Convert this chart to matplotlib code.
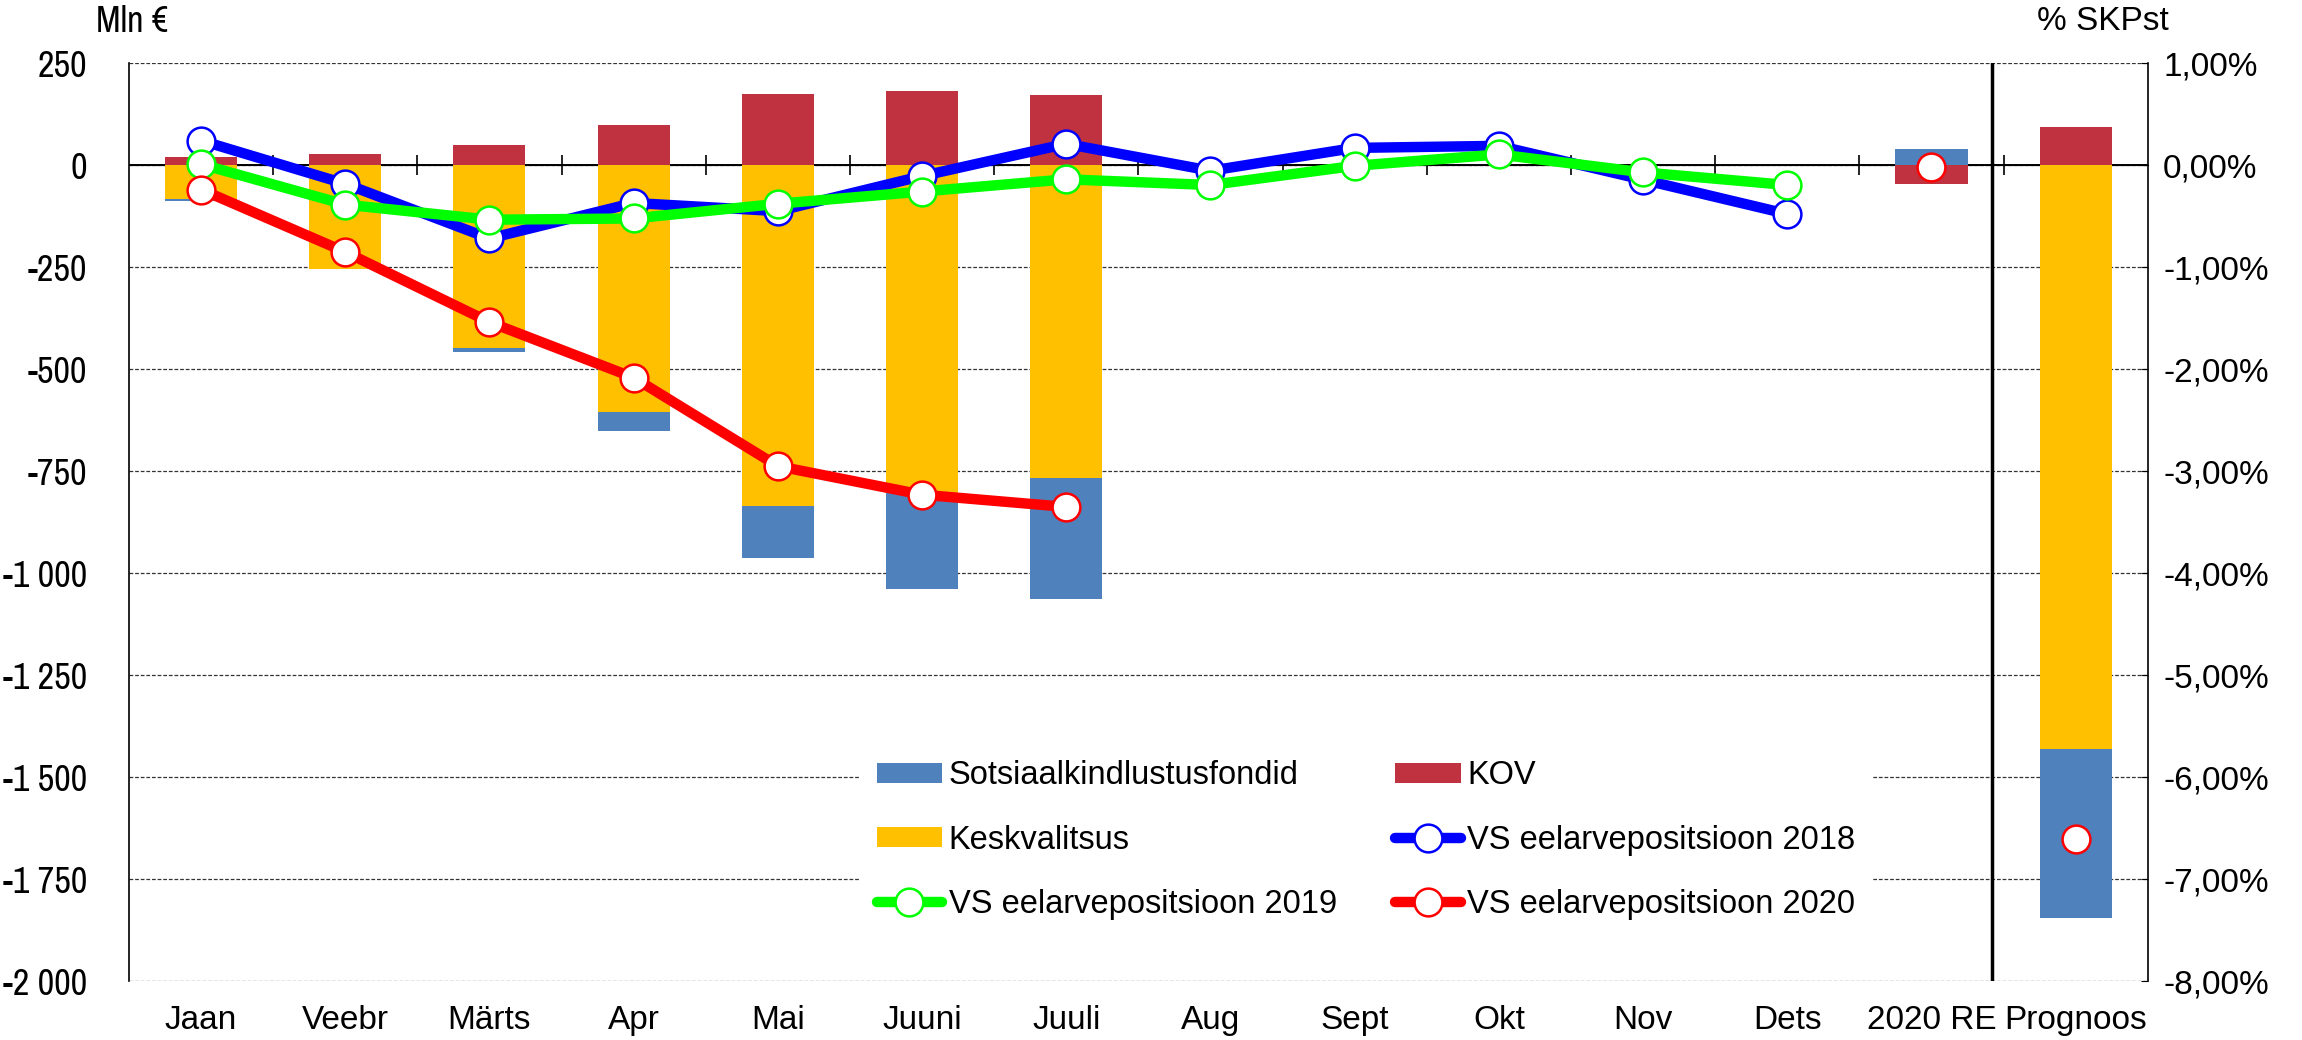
import numpy as np
import matplotlib
matplotlib.use("Agg")
import matplotlib.pyplot as plt
from matplotlib.ticker import FuncFormatter

plt.rcParams['font.family'] = ['Liberation Sans', 'DejaVu Sans']
plt.rcParams['font.size'] = 24
kitsas = ['Liberation Sans Narrow', 'Arial Narrow', 'Archivo Narrow', 'PT Sans Narrow',
          'Roboto Condensed', 'Liberation Sans', 'DejaVu Sans']

# Kategooriad
kuud = ['Jaan', 'Veebr', 'Märts', 'Apr', 'Mai', 'Juuni', 'Juuli', 'Aug', 'Sept', 'Okt', 'Nov', 'Dets']
lisad = ['2020 RE', 'Prognoos']

# 2020 kumulatiivne eelarvepositsioon sektorite kaupa, mln €
keskvalitsus = [-83, -254, -448, -605, -835, -803, -766]
sotsiaal = [-5, 0, -10, -47, -127, -237, -297]
kov = [20, 28, 49, 98, 174, 181, 172]

# VS eelarvepositsioon, mln €
vs2018 = [60, -46, -180, -93, -113, -27, 52, -14, 42, 47, -36, -120]
vs2019 = [2, -97, -134, -131, -95, -65, -35, -49, -2, 26, -18, -49]
vs2020 = [-60, -213, -385, -521, -738, -808, -838]

# 2020 RE ja prognoos, % SKPst
lisa_kesk = [0.0, -5.73]
lisa_sots = [0.16, -1.65]
lisa_kov = [-0.19, 0.37]
lisa_vs = [-0.02, -6.61]

MLN_PROTSENDIS = 250  # 1% SKPst ~ 250 mln €

c_sots = '#4F81BD'
c_kesk = '#FFC000'
c_kov = '#C0323F'


def virn(ax, x, seeriad, varvid, laius=0.5):
    pos = np.zeros(len(x))
    neg = np.zeros(len(x))
    tulem = []
    for vals, c in zip(seeriad, varvid):
        v = np.array(vals, dtype=float)
        alus = np.where(v >= 0, pos, neg)
        tulem.append(ax.bar(x, v, laius, bottom=alus, color=c, zorder=2))
        pos += np.clip(v, 0, None)
        neg += np.clip(v, None, 0)
    return tulem


fig = plt.figure(figsize=(23.02, 10.4), dpi=100)
ax = fig.add_axes([0.056, 0.0567, 0.877, 0.8827])
ax2 = ax.twinx()

ylim = (-2000, 250)
ax.set_ylim(*ylim)
ax2.set_ylim(ylim[0] / MLN_PROTSENDIS, ylim[1] / MLN_PROTSENDIS)
ax.set_xlim(-0.5, 13.5)

# tulbad (kuud)
x_kuud = np.arange(len(keskvalitsus))
b_kesk, b_sots, b_kov = virn(ax, x_kuud, [keskvalitsus, sotsiaal, kov], [c_kesk, c_sots, c_kov])

# tulbad (2020 RE, prognoos) parempoolsel teljel
x_lisad = np.arange(len(kuud), len(kuud) + len(lisad))
virn(ax2, x_lisad, [lisa_kesk, lisa_sots, lisa_kov], [c_kesk, c_sots, c_kov])

# nulljoon
ax.axhline(0, color='black', lw=1.4, zorder=1.5)

# jooned
stiil = dict(lw=7.5, marker='o', ms=20, mfc='white', mew=1.8, zorder=4, solid_capstyle='round')
l18, = ax.plot(np.arange(len(vs2018)), vs2018, color='#0000FF', mec='#0000FF', **stiil)
l19, = ax.plot(np.arange(len(vs2019)), vs2019, color='#00FF00', mec='#00FF00', **stiil)
l20, = ax.plot(np.arange(len(vs2020)), vs2020, color='#FF0000', mec='#FF0000', **stiil)
ax2.plot(x_lisad, lisa_vs, ls='none', marker='o', ms=20, mfc='white', mec='#FF0000', mew=1.8, zorder=4)

# eraldusjoon
ax2.axvline(12.42, color='black', lw=2.5, zorder=5)

# teljed
y_ticks = np.arange(-2000, 251, 250)
ax.set_yticks(y_ticks, [f'{int(v):,}'.replace(',', ' ') for v in y_ticks], family=kitsas)
ax2.set_yticks(np.arange(-8, 1.01, 1))
ax2.yaxis.set_major_formatter(FuncFormatter(lambda v, p: f'{v:.2f}%'.replace('.', ',')))
ax.tick_params(axis='y', length=0, pad=30, labelsize=26)
ax2.tick_params(axis='y', length=5, direction='in', pad=11, labelsize=24)

ax.set_xticks(range(len(kuud) + len(lisad)), kuud + lisad)
ax.tick_params(axis='x', length=0, pad=17, labelsize=24)

ax.yaxis.grid(True, linestyle=(0, (3, 1.5)), color='#333333', lw=0.9)
ax.set_axisbelow(True)

for s in ['top', 'bottom', 'right']:
    ax.spines[s].set_visible(False)
for s in ['top', 'bottom', 'left']:
    ax2.spines[s].set_visible(False)
ax.spines['left'].set_linewidth(1.2)
ax2.spines['right'].set_linewidth(1.2)

# kategooriate piirid nulljoonel
null = (0 - ylim[0]) / (ylim[1] - ylim[0])
sec = ax.secondary_xaxis(null)
sec.set_xticks(np.arange(0.5, 13, 1))
sec.tick_params(axis='x', direction='inout', length=14, width=1.2, color='black',
                labelbottom=False, labeltop=False)
sec.spines['bottom'].set_linewidth(1.4)
sec.spines['bottom'].set_color('black')

fig.text(0.0415, 0.979, 'Mln €', fontsize=26, va='center', family=kitsas)
fig.text(0.9136, 0.979, '% SKPst', fontsize=24, va='center', ha='center')

kasitsejad = [b_sots, b_kesk, l19, b_kov, l18, l20]
nimed = ['Sotsiaalkindlustusfondid', 'Keskvalitsus', 'VS eelarvepositsioon 2019',
         'KOV', 'VS eelarvepositsioon 2018', 'VS eelarvepositsioon 2020']
leg = ax2.legend(kasitsejad, nimed, ncol=2, loc='center left',
                 bbox_to_anchor=(0.366, 0.1923), bbox_transform=fig.transFigure,
                 fontsize=23.5, frameon=True, facecolor='white', edgecolor='none', framealpha=1,
                 fancybox=False, handlelength=2.0, handleheight=0.55, handletextpad=0.2,
                 columnspacing=1.8, labelspacing=1.02, borderpad=0.55)
leg.set_zorder(10)

fig.savefig('out.png', dpi=100)
